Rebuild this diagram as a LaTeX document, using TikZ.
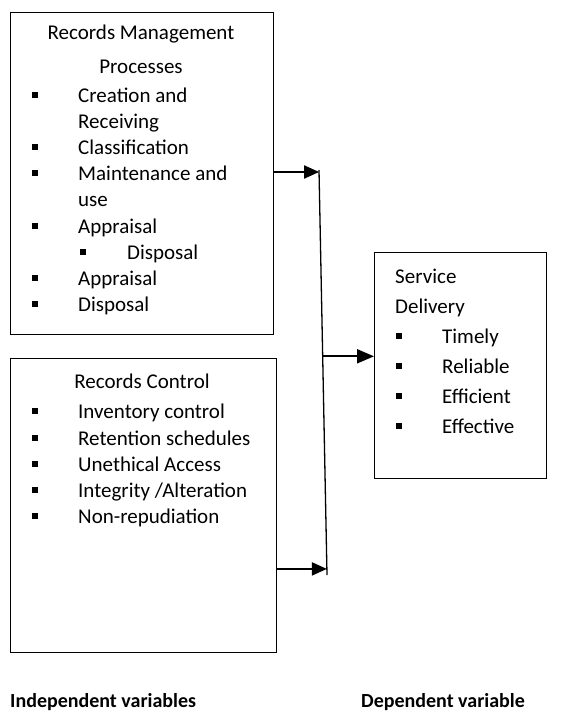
\documentclass[tikz,border=0pt]{standalone}
\usepackage{fontspec}
\setmainfont{Carlito}
\usetikzlibrary{arrows.meta,calc}
\begin{document}
\begin{tikzpicture}[x=1pt,y=-1pt,
  box/.style={draw,line width=1.1pt,anchor=north west,inner sep=0pt},
  txt/.style={anchor=base west,inner sep=0pt,font=\fontsize{21}{25}\selectfont},
  ctxt/.style={anchor=base,inner sep=0pt,font=\fontsize{21}{25}\selectfont},
  lbl/.style={anchor=base west,inner sep=0pt,font=\fontsize{20}{24}\selectfont\bfseries},
  blt/.style={fill=black,minimum size=5.5pt,inner sep=0pt,anchor=center},
  arr/.style={line width=2pt,-{Triangle[length=15pt,width=13pt]}}
]
\useasboundingbox (0,0) rectangle (565,728);
% boxes
\node[box,minimum width=263pt,minimum height=322pt] (b1) at (10,12) {};
\node[box,minimum width=266pt,minimum height=294pt] (b2) at (10,358) {};
\node[box,minimum width=172pt,minimum height=226pt] (b3) at (374,252) {};
% box 1 text
\node[ctxt] (t1a) at (141,39) {Records Management};
\node[ctxt] (t1b) at (141,73) {Processes};
\foreach \y/\t/\b [count=\i] in {102/Creation and/1,128/Receiving/0,154/Classification/1,180/Maintenance and/1,206/use/0,233/Appraisal/1,285/Appraisal/1,311/Disposal/1}{
  \node[txt] (m\i) at (78,\y) {\t};
  \ifnum\b=1 \node[blt] (mb\i) at (35,\y-7) {};\fi
}
\node[txt] (msub) at (127,259) {Disposal};
\node[blt] (msubb) at (83,252) {};
% box 2 text
\node[ctxt] (t2) at (142,388) {Records Control};
\foreach \y/\t [count=\i] in {418/{Inventory control},445/{Retention schedules},471/{Unethical Access},497/{Integrity /Alteration},523/{Non-repudiation}}{
  \node[txt] (c\i) at (78,\y) {\t};
  \node[blt] (cb\i) at (35,\y-7) {};
}
% box 3 text
\node[txt] (t3a) at (395,283) {Service};
\node[txt] (t3b) at (395,313) {Delivery};
\foreach \y/\t [count=\i] in {343/Timely,373/Reliable,403/Efficient,433/Effective}{
  \node[txt] (s\i) at (442,\y) {\t};
  \node[blt] (sb\i) at (399,\y-7) {};
}
% connectors
\coordinate (vtop) at (319,170);
\coordinate (vbot) at (327,575);
\draw[line width=1.3pt] (vtop) -- (vbot);
\coordinate (in2) at ($(vtop)!0.985!(vbot)$);
\coordinate (out3) at ($(vtop)!0.46!(vbot)$);
\draw[arr] (b1.east |- 0,172) -- (319.1,172);
\draw[arr] (b2.east |- in2) -- (in2);
\draw[arr,-{Triangle[length=17pt,width=14pt]}] (out3) -- (b3.west |- out3);
% labels
\node[lbl] (ind) at (10,707) {Independent variables};
\node[lbl] (dep) at (361,707) {Dependent variable};
\end{tikzpicture}
\end{document}
